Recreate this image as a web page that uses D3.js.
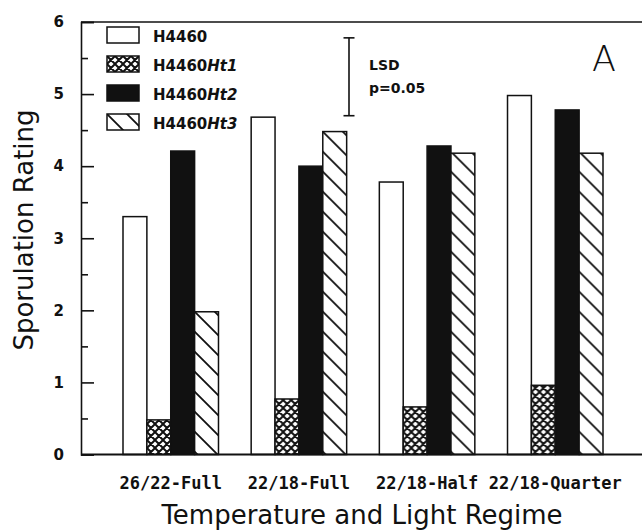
<!DOCTYPE html>
<html>
<head>
<meta charset="utf-8">
<script src="https://cdn.jsdelivr.net/npm/d3@7"></script>
<style>
  body { margin: 0; background: #fff; }
  svg { display: block; }
</style>
</head>
<body>
<svg id="drawing_region"></svg>
<script>
const regimes = ['26/22-Full', '22/18-Full', '22/18-Half', '22/18-Quarter'];
const lines = ['H4460', 'H4460Ht1', 'H4460Ht2', 'H4460Ht3'];
const h4460 = [3.3, 4.68, 3.78, 4.98];
const ht1 = [0.48, 0.77, 0.66, 0.96];
const ht2 = [4.21, 4.0, 4.28, 4.78];
const ht3 = [1.98, 4.48, 4.18, 4.18];
const majorTicks = [0, 1, 2, 3, 4, 5, 6];
const minorTicks = [0.5, 1.5, 2.5, 3.5, 4.5, 5.5];
const lsd = 1.08;      // LSD at p=0.05
const lsdTop = 5.78;

const series = [h4460, ht1, ht2, ht3];

const W = 642, H = 531;
const plotLeft = 81, plotTop = 22, plotBottom = 454.5;

const svg = d3.select('#drawing_region')
    .attr('width', W)
    .attr('height', H);

// patterns
const defs = svg.append('defs');
const cross = defs.append('pattern')
    .attr('id', 'cross')
    .attr('patternUnits', 'userSpaceOnUse')
    .attr('width', 8).attr('height', 8);
cross.append('rect').attr('width', 8).attr('height', 8).attr('fill', '#fff');
cross.append('path')
    .attr('d', 'M0,0 L8,8 M8,0 L0,8 M-1,7 L1,9 M7,-1 L9,1 M-1,1 L1,-1 M7,9 L9,7')
    .attr('stroke', '#111').attr('stroke-width', 2);

const hatch = defs.append('pattern')
    .attr('id', 'hatch')
    .attr('patternUnits', 'userSpaceOnUse')
    .attr('width', 20).attr('height', 20);
hatch.append('rect').attr('width', 20).attr('height', 20).attr('fill', '#fff');
hatch.append('path')
    .attr('d', 'M0,0 L20,20 M-10,10 L10,30 M10,-10 L30,10')
    .attr('stroke', '#111').attr('stroke-width', 1.8);

const fills = ['#fff', 'url(#cross)', '#111', 'url(#hatch)'];

const yscale = d3.scaleLinear()
    .domain([0, 6])
    .range([plotBottom, plotTop]);

const xscale = d3.scaleBand()
    .domain(regimes)
    .range([123, 603])
    .paddingInner(0.255)
    .paddingOuter(0);

const subscale = d3.scaleBand()
    .domain(lines)
    .range([0, xscale.bandwidth()]);

const chart = svg.append('g');

// bars
const groups = chart.selectAll('g.group')
    .data(regimes)
    .enter()
    .append('g')
    .attr('class', 'group')
    .attr('transform', d => `translate(${xscale(d)},0)`);

groups.selectAll('rect')
    .data((d, i) => lines.map((l, j) => ({ line: l, idx: j, value: series[j][i] })))
    .enter()
    .append('rect')
    .attr('x', d => subscale(d.line))
    .attr('y', d => yscale(d.value))
    .attr('width', subscale.bandwidth())
    .attr('height', d => yscale(0) - yscale(d.value))
    .attr('fill', d => fills[d.idx])
    .attr('stroke', '#111')
    .attr('stroke-width', 1.5);

// frame lines
chart.append('line')
    .attr('x1', plotLeft).attr('x2', W)
    .attr('y1', yscale(6)).attr('y2', yscale(6))
    .attr('stroke', '#111').attr('stroke-width', 1.6);
chart.append('line')
    .attr('x1', plotLeft).attr('x2', W)
    .attr('y1', yscale(0)).attr('y2', yscale(0))
    .attr('stroke', '#111').attr('stroke-width', 1.8);

// y axis
const yaxis = d3.axisLeft(yscale)
    .tickValues(majorTicks)
    .tickSize(-13)
    .tickPadding(18)
    .tickFormat(d3.format('d'));
const yaxis_group = chart.append('g')
    .attr('transform', `translate(${plotLeft},0)`)
    .call(yaxis);
yaxis_group.select('.domain').attr('stroke', '#111').attr('stroke-width', 1.6);
yaxis_group.selectAll('.tick line').attr('stroke', '#111').attr('stroke-width', 1.6);
yaxis_group.selectAll('.tick text')
    .attr('x', -17)
    .style('font-family', 'DejaVu Sans')
    .style('font-weight', 'bold')
    .style('font-size', '15px')
    .attr('fill', '#111');

const yminor = d3.axisLeft(yscale)
    .tickValues(minorTicks)
    .tickSize(-7)
    .tickFormat('');
const yminor_group = chart.append('g')
    .attr('transform', `translate(${plotLeft},0)`)
    .call(yminor);
yminor_group.select('.domain').remove();
yminor_group.selectAll('.tick line').attr('stroke', '#111').attr('stroke-width', 1.6);

// x labels
const xaxis = d3.axisBottom(xscale)
    .tickSize(0)
    .tickPadding(22);
const xaxis_group = chart.append('g')
    .attr('transform', `translate(0,${plotBottom})`)
    .call(xaxis);
xaxis_group.select('.domain').remove();
xaxis_group.selectAll('.tick text')
    .style('font-family', 'DejaVu Sans Mono')
    .style('font-weight', 'bold')
    .style('font-size', '17px')
    .attr('fill', '#111');

// axis titles
svg.append('text')
    .attr('text-anchor', 'middle')
    .attr('x', 362)
    .attr('y', 524)
    .style('font-family', 'DejaVu Sans')
    .style('font-size', '26px')
    .attr('fill', '#111')
    .text('Temperature and Light Regime');

svg.append('text')
    .attr('text-anchor', 'middle')
    .attr('transform', 'translate(33,230) rotate(-90)')
    .style('font-family', 'DejaVu Sans')
    .style('font-size', '26px')
    .attr('fill', '#111')
    .text('Sporulation Rating');

// legend
const legend = svg.append('g').attr('transform', 'translate(107,27)');
const items = legend.selectAll('g')
    .data(lines)
    .enter()
    .append('g')
    .attr('transform', (d, i) => `translate(0,${i * 29})`);
items.append('rect')
    .attr('width', 32).attr('height', 16)
    .attr('fill', (d, i) => fills[i])
    .attr('stroke', '#111')
    .attr('stroke-width', 1.5);
const ltext = items.append('text')
    .attr('x', 46)
    .attr('y', 15)
    .style('font-family', 'DejaVu Sans')
    .style('font-weight', 'bold')
    .style('font-size', '15px')
    .attr('fill', '#111');
ltext.append('tspan').text(d => d.slice(0, 5));
ltext.append('tspan')
    .style('font-style', 'italic')
    .text(d => d.slice(5));

// LSD bar
const lsdX = 349;
const lsdG = svg.append('g').attr('stroke', '#111').attr('stroke-width', 1.6);
lsdG.append('line')
    .attr('x1', lsdX).attr('x2', lsdX)
    .attr('y1', yscale(lsdTop)).attr('y2', yscale(lsdTop - lsd));
[lsdTop, lsdTop - lsd].forEach(v => {
    lsdG.append('line')
        .attr('x1', lsdX - 5.5).attr('x2', lsdX + 5.5)
        .attr('y1', yscale(v)).attr('y2', yscale(v));
});
svg.append('text')
    .attr('x', 369).attr('y', 70)
    .style('font-family', 'DejaVu Sans')
    .style('font-weight', 'bold')
    .style('font-size', '14px')
    .attr('fill', '#111')
    .text('LSD');
svg.append('text')
    .attr('x', 369).attr('y', 93)
    .style('font-family', 'DejaVu Sans')
    .style('font-weight', 'bold')
    .style('font-size', '14px')
    .attr('fill', '#111')
    .text('p=0.05');

// panel letter
svg.append('text')
    .attr('x', 592).attr('y', 71)
    .style('font-family', 'DejaVu Sans')
    .style('font-weight', '200')
    .style('font-size', '35px')
    .attr('fill', '#111')
    .text('A');
</script>
</body>
</html>
